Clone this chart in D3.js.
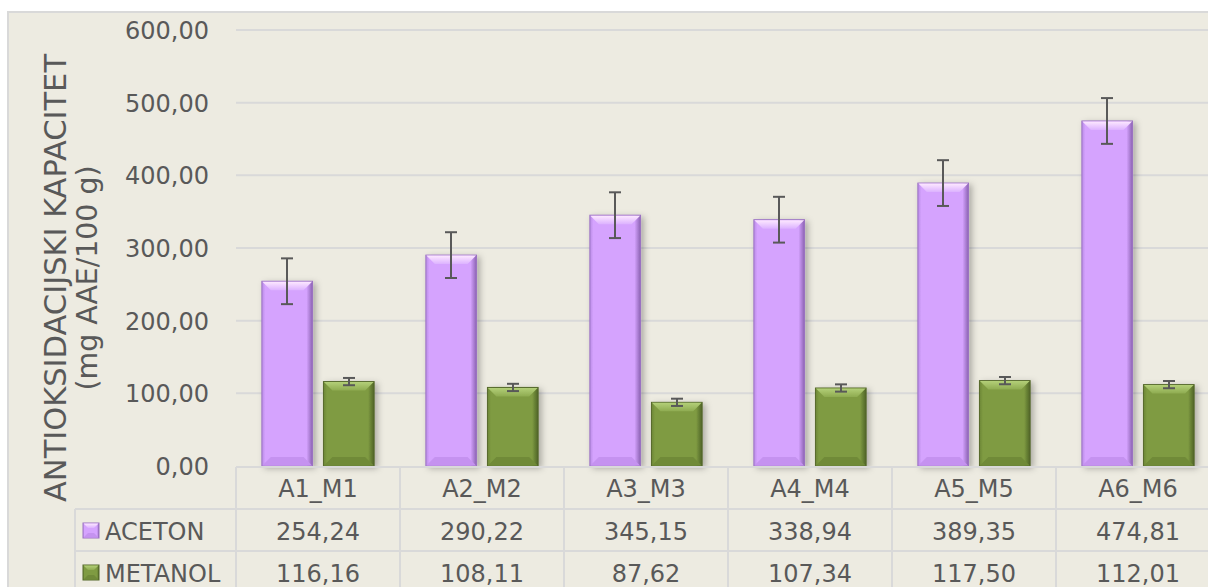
<!DOCTYPE html>
<meta charset="utf-8">
<style>
body { margin: 0; background: #fff; }
text { font-family: "DejaVu Sans", Verdana, sans-serif; fill: #595959; }
.grid line { stroke: #d9d9d9; stroke-width: 2px; }
.table line { stroke: #d9d9d9; stroke-width: 2px; }
.err line { stroke: #595959; stroke-width: 2px; }
</style>
<body>
<svg id="chart" width="1208" height="587"></svg>

<script src="https://d3js.org/d3.v7.min.js"></script>
<script>

var categories = ["A1_M1", "A2_M2", "A3_M3", "A4_M4", "A5_M5", "A6_M6"];
var series = ["ACETON", "METANOL"];
var aceton = [254.24, 290.22, 345.15, 338.94, 389.35, 474.81];
var metanol = [116.16, 108.11, 87.62, 107.34, 117.50, 112.01];
var acetonErr = [31.5, 31.5, 31.5, 31.5, 31.5, 31.5];
var metanolErr = [5, 5, 5, 5, 5, 5];
var yTicks = [0, 100, 200, 300, 400, 500, 600];

var values = { ACETON: aceton, METANOL: metanol };
var errors = { ACETON: acetonErr, METANOL: metanolErr };

// colours for the bevelled bars
var look = {
  ACETON:  { left: "#b98be6", main: "#d5a3fe", right: "#8b62b2", top1: "#fde8ff", top2: "#dcb2ff", bot: "#c592f0", edge: "#9b72c2" },
  METANOL: { left: "#6c8636", main: "#7f9b42", right: "#4e6326", top1: "#b3cf78", top2: "#8eab50", bot: "#708a39", edge: "#55692b" }
};

var svg = d3.select("#chart");
var plotLeft = 236, colW = 164;
var rowTop = 467, rowH = 42;

var x = d3.scaleBand().domain(categories).range([plotLeft, plotLeft + colW * categories.length]);
var xSub = d3.scaleBand().domain(series).range([0, colW]).paddingInner(0.177).paddingOuter(0.42);
var y = d3.scaleLinear().domain([0, 600]).range([466, 30]);

var fmt = function(v) { return v.toFixed(2).replace(".", ","); };

// defs: gradients + shadow
var defs = svg.append("defs");
series.forEach(function(s) {
  var c = look[s];
  var g = defs.append("linearGradient").attr("id", "side-" + s);
  g.append("stop").attr("offset", "0%").attr("stop-color", c.left);
  g.append("stop").attr("offset", "7%").attr("stop-color", c.main);
  g.append("stop").attr("offset", "88%").attr("stop-color", c.main);
  g.append("stop").attr("offset", "100%").attr("stop-color", c.right);
  var t = defs.append("linearGradient").attr("id", "top-" + s)
      .attr("x1", 0).attr("y1", 0).attr("x2", 0).attr("y2", 1);
  t.append("stop").attr("offset", "0%").attr("stop-color", c.top1);
  t.append("stop").attr("offset", "100%").attr("stop-color", c.top2);
});
var f = defs.append("filter").attr("id", "shadow")
    .attr("x", "-20%").attr("y", "-20%").attr("width", "150%").attr("height", "150%");
f.append("feDropShadow").attr("dx", 3).attr("dy", 2).attr("stdDeviation", 3)
    .attr("flood-color", "#000").attr("flood-opacity", 0.28);

// chart area background
svg.append("rect")
    .attr("x", 8).attr("y", 12).attr("width", 1220).attr("height", 600)
    .attr("fill", "#edebe1").attr("stroke", "#d9d9d9").attr("stroke-width", 2);

// gridlines
svg.append("g").attr("class", "grid")
  .selectAll("line").data(yTicks.slice(1)).enter().append("line")
    .attr("x1", plotLeft).attr("x2", 1208)
    .attr("y1", function(d) { return y(d); }).attr("y2", function(d) { return y(d); });

// y tick labels
svg.append("g").selectAll("text").data(yTicks).enter().append("text")
    .attr("x", 209).attr("y", function(d) { return y(d) + 9; })
    .attr("text-anchor", "end").style("font-size", "24px")
    .text(fmt);

// y title
var title = svg.append("g").attr("transform", "translate(0,278) rotate(-90)");
title.append("text").attr("x", 0).attr("y", 66).attr("text-anchor", "middle")
    .style("font-size", "30px").attr("textLength", 448).attr("lengthAdjust", "spacingAndGlyphs")
    .text("ANTIOKSIDACIJSKI KAPACITET");
title.append("text").attr("x", 0).attr("y", 97).attr("text-anchor", "middle")
    .style("font-size", "28.5px").attr("textLength", 225).attr("lengthAdjust", "spacingAndGlyphs")
    .text("(mg AAE/100 g)");

// bevelled box
function bevel(g, s, bx, by, w, h, b) {
  var c = look[s];
  g.append("rect").attr("x", bx).attr("y", by).attr("width", w).attr("height", h)
      .attr("fill", "url(#side-" + s + ")").attr("stroke", c.edge).attr("stroke-width", 1);
  g.append("polygon")
      .attr("points", [[bx + 0.5, by + 0.5], [bx + w - 0.5, by + 0.5], [bx + w - b, by + b], [bx + b, by + b]].join(" "))
      .attr("fill", "url(#top-" + s + ")");
  g.append("polygon")
      .attr("points", [[bx + 0.5, by + h - 0.5], [bx + w - 0.5, by + h - 0.5], [bx + w - b, by + h - b], [bx + b, by + h - b]].join(" "))
      .attr("fill", c.bot);
}

// bars
var bars = svg.append("g");
categories.forEach(function(cat, i) {
  series.forEach(function(s) {
    var v = values[s][i];
    var g = bars.append("g").attr("filter", "url(#shadow)");
    bevel(g, s, x(cat) + xSub(s), y(v), xSub.bandwidth(), y(0) - y(v), 9);
  });
});

// error bars
var err = svg.append("g").attr("class", "err");
categories.forEach(function(cat, i) {
  series.forEach(function(s) {
    var v = values[s][i], e = errors[s][i];
    var cx = Math.round(x(cat) + xSub(s) + xSub.bandwidth() / 2);
    err.append("line").attr("x1", cx).attr("x2", cx).attr("y1", y(v + e)).attr("y2", y(v - e));
    err.append("line").attr("x1", cx - 6).attr("x2", cx + 6).attr("y1", y(v + e)).attr("y2", y(v + e));
    err.append("line").attr("x1", cx - 6).attr("x2", cx + 6).attr("y1", y(v - e)).attr("y2", y(v - e));
  });
});

// data table
var table = svg.append("g").attr("class", "table");
var tableRight = 1220;
table.append("line").attr("x1", plotLeft).attr("x2", tableRight).attr("y1", rowTop).attr("y2", rowTop);
[1, 2].forEach(function(r) {
  table.append("line").attr("x1", 75).attr("x2", tableRight)
      .attr("y1", rowTop + r * rowH).attr("y2", rowTop + r * rowH);
});
table.append("line").attr("x1", 75).attr("x2", 75).attr("y1", rowTop + rowH).attr("y2", 600);
table.selectAll(".col").data(categories.concat(["end"])).enter().append("line")
    .attr("x1", function(d, i) { return plotLeft + i * colW; })
    .attr("x2", function(d, i) { return plotLeft + i * colW; })
    .attr("y1", rowTop).attr("y2", 600);

svg.append("g").selectAll("text").data(categories).enter().append("text")
    .attr("x", function(d) { return x(d) + colW / 2; })
    .attr("y", rowTop + 30).attr("text-anchor", "middle").style("font-size", "24px")
    .text(function(d) { return d; });

series.forEach(function(s, r) {
  var ty = rowTop + (r + 1) * rowH + 31;
  svg.append("g").selectAll("text").data(values[s]).enter().append("text")
      .attr("x", function(d, i) { return x(categories[i]) + colW / 2; })
      .attr("y", ty).attr("text-anchor", "middle").style("font-size", "24px")
      .text(fmt);
  var lg = svg.append("g");
  bevel(lg, s, 83, ty - 17, 16, 15, 5);
  svg.append("text").attr("x", 105).attr("y", ty).style("font-size", "24px").text(s);
});

</script>
</body>
